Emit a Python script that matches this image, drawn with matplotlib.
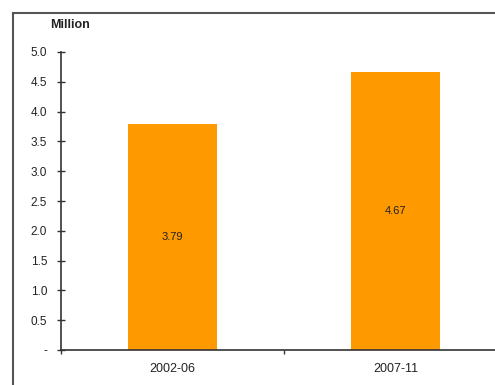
import matplotlib
matplotlib.use("Agg")
import matplotlib.pyplot as plt
from matplotlib.lines import Line2D

categories = ["2002-06", "2007-11"]
values = [3.79, 4.67]
value_labels = ["3.79", "4.67"]
yticks = [0, 0.5, 1.0, 1.5, 2.0, 2.5, 3.0, 3.5, 4.0, 4.5, 5.0]
ytick_labels = ["-", "0.5", "1.0", "1.5", "2.0", "2.5", "3.0", "3.5", "4.0", "4.5", "5.0"]

plt.rcParams['font.family'] = ['Liberation Sans', 'DejaVu Sans']

fig = plt.figure(figsize=(4.95, 3.85), dpi=100)
ax = fig.add_axes([61/495, 1-350/385, (507-61)/495, (350-52)/385])

x = list(range(len(categories)))
ax.bar(x, values, width=0.40, color="#FF9900", zorder=2)
for xi, v, lab in zip(x, values, value_labels):
    ax.text(xi, v/2, lab, ha="center", va="center", fontsize=8, color="#222222")

ax.set_xlim(-0.5, 1.5)
ax.set_ylim(0, 5.0)
ax.set_yticks(yticks)
ax.set_yticklabels(ytick_labels, fontsize=8.5, color="#222222")
ax.set_xticks([-0.5, 0.5, 1.5])
ax.set_xticklabels([])
ax.set_xticks(x, minor=True)
ax.set_xticklabels(categories, minor=True, fontsize=9, color="#222222")
ax.tick_params(axis="x", which="minor", length=0, pad=9)
ax.tick_params(axis="x", which="major", direction="out", length=3, width=1, color="#333333")
ax.tick_params(axis="y", direction="inout", length=6, width=1, color="#333333", pad=7)

for s in ["top", "right"]:
    ax.spines[s].set_visible(False)
for s in ["left", "bottom"]:
    ax.spines[s].set_color("#333333")
    ax.spines[s].set_linewidth(1.2)

fig.text(50/495, 1-25/385, "Million", fontsize=9, fontweight="bold", ha="left", va="center", color="#222222")

# outer frame (left and top edges visible)
fig.add_artist(Line2D([13/495, 13/495], [0, 1-13/385], transform=fig.transFigure, color="#555555", lw=1.5))
fig.add_artist(Line2D([13/495, 1], [1-13/385, 1-13/385], transform=fig.transFigure, color="#555555", lw=1.5))

fig.savefig("out.png", dpi=100)
